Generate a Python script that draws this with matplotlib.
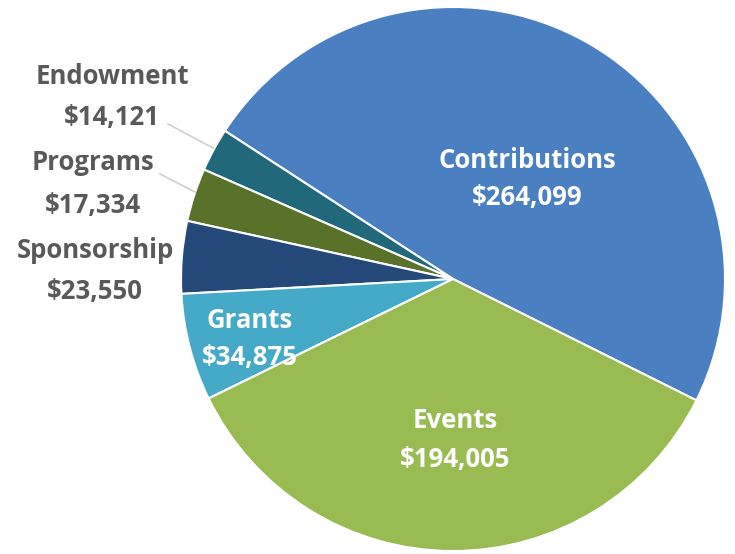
import matplotlib
matplotlib.use("Agg")
import matplotlib.pyplot as plt

categories = ["Contributions", "Endowment", "Programs", "Sponsorship", "Grants", "Events"]
values = [264099, 14121, 17334, 23550, 34875, 194005]
colors = ["#4a7fc1", "#21687a", "#58722a", "#244877", "#45aac8", "#98bb52"]

W, H = 735, 554
fig = plt.figure(figsize=(W / 100, H / 100), dpi=100)
ax = fig.add_axes([0, 0, 1, 1])

cx, cy, r = 453, H - 279, 272
ax.pie(values, colors=colors, startangle=-26.5, counterclock=True,
       center=(cx, cy), radius=r, frame=True,
       wedgeprops=dict(edgecolor="white", linewidth=1.5))
ax.set_xlim(0, W)
ax.set_ylim(0, H)
ax.set_aspect("equal")
ax.axis("off")

font = dict(family=["Open Sans", "DejaVu Sans"], fontweight="bold", fontsize=18.5)

def lab(name, val, x, y1, y2, color):
    ax.text(x, H - y1, name, color=color, ha="center", va="center", **font)
    ax.text(x, H - y2, f"${val:,}", color=color, ha="center", va="center", **font)

v = dict(zip(categories, values))
lab("Contributions", v["Contributions"], 527, 160, 197, "white")
lab("Events", v["Events"], 455, 421, 460, "white")
lab("Grants", v["Grants"], 250, 321, 358, "white")
lab("Endowment", v["Endowment"], 112, 76, 118, "#595959")
lab("Programs", v["Programs"], 93, 163, 205, "#595959")
lab("Sponsorship", v["Sponsorship"], 95, 250, 292, "#595959")

# leader lines
ax.plot([168, 213], [H - 124, H - 148], color="#d0d0d0", lw=1.2)
ax.plot([160, 195], [H - 174, H - 192], color="#d0d0d0", lw=1.2)

fig.savefig("out.png", dpi=100)
